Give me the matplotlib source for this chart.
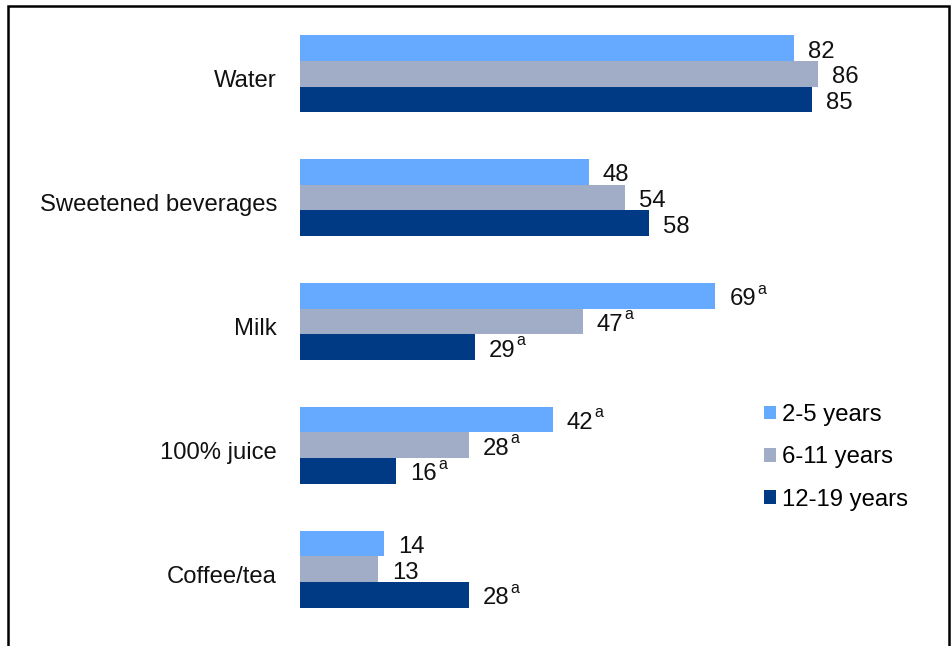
import matplotlib
matplotlib.use("Agg")
import matplotlib.pyplot as plt
import matplotlib.transforms as mtransforms
from matplotlib.patches import Patch
from matplotlib.lines import Line2D
import numpy as np

# beverage categories, top to bottom
categories = ["Water", "Sweetened beverages", "Milk", "100% juice", "Coffee/tea"]
age_groups = ["2-5 years", "6-11 years", "12-19 years"]

# percent consuming, by age group
pct_2_5 = [82, 48, 69, 42, 14]
pct_6_11 = [86, 54, 47, 28, 13]
pct_12_19 = [85, 58, 29, 16, 28]

# "a" footnote marker on the value label
flag_2_5 = [False, False, True, True, False]
flag_6_11 = [False, False, True, True, False]
flag_12_19 = [False, False, True, True, True]

colors = ["#66AAFF", "#A1ACC6", "#003A85"]

plt.rcParams["font.family"] = ["Liberation Sans", "DejaVu Sans"]
FS = 17.2

fig = plt.figure(figsize=(9.53, 6.46), dpi=100)
ax = fig.add_axes([300 / 953, 15 / 646, 602 / 953, 619.2 / 646])

series = [pct_2_5, pct_6_11, pct_12_19]
flags = [flag_2_5, flag_6_11, flag_12_19]
y = np.arange(len(categories))
h = 0.207

for k, (vals, flg) in enumerate(zip(series, flags)):
    ypos = y + (k - 1) * h
    ax.barh(ypos, vals, height=h, color=colors[k], label=age_groups[k])
    for yy, v, f in zip(ypos, vals, flg):
        t = ax.annotate(str(v), xy=(v, yy), xytext=(10, -2.5),
                        textcoords="offset points", ha="left", va="center",
                        fontsize=FS, color="#111111")
        if f:
            ax.annotate("a", xy=(1, 0), xycoords=t, xytext=(1, 12),
                        textcoords="offset points", ha="left", va="baseline",
                        fontsize=11.5, color="#111111")

ax.set_xlim(0, 100)
ax.set_ylim(4.5, -0.5)
ax.set_yticks(y)
ax.set_yticklabels(categories, fontsize=FS, color="#111111")
ax.tick_params(axis="y", length=0, pad=16.5)
ax.set_xticks([])
for s in ax.spines.values():
    s.set_visible(False)

# nudge category labels down a little
off = mtransforms.ScaledTranslation(0, -5 / 100, fig.dpi_scale_trans)
for lab in ax.get_yticklabels():
    lab.set_transform(lab.get_transform() + off)

handles = [Patch(facecolor=c) for c in colors]
ax.legend(handles, age_groups, loc="upper left",
          bbox_to_anchor=(764 / 953, 1 - 404 / 646), bbox_transform=fig.transFigure,
          frameon=False, fontsize=FS, borderpad=0, borderaxespad=0,
          handlelength=0.5, handleheight=0.5, handletextpad=0.25,
          labelspacing=0.85)

# outer frame (open at the bottom)
W, H = 953, 646
fx = lambda px: px / W
fy = lambda py: 1 - py / H
fig.add_artist(Line2D([fx(8), fx(8), fx(949.5), fx(949.5)],
                      [0, fy(5.5), fy(5.5), 0],
                      transform=fig.transFigure, color="black", lw=1.8,
                      solid_joinstyle="miter"))

fig.savefig("out.png", dpi=100)
